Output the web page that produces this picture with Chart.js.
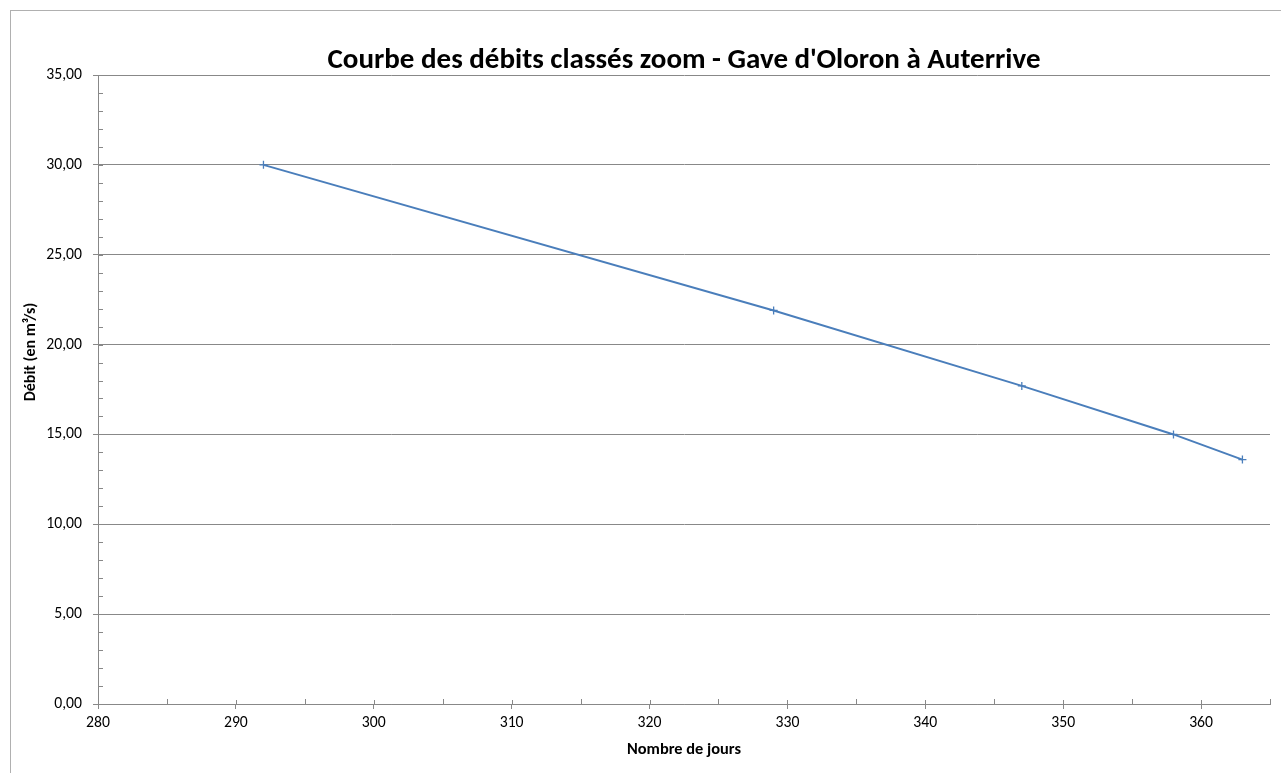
<!DOCTYPE html>
<html lang="fr">
<head>
<meta charset="utf-8">
<title>Courbe des débits classés zoom</title>
<script src="https://cdn.jsdelivr.net/npm/chart.js@4"></script>
<style>
    html, body { margin: 0; padding: 0; background: #ffffff; overflow: hidden; }
    #frame { position: absolute; left: 10px; top: 10px; width: 1300px; height: 800px; border: 1px solid #b0b0b0; }
    #wrap { position: absolute; left: 0; top: 0; width: 1281px; height: 773px; }
</style>
</head>
<body>
<div id="frame"></div>
<div id="wrap"><canvas id="chart"></canvas></div>
<script>
// Données
const jours = [292, 329, 347, 358, 363];
const debits = [30.0, 21.9, 17.7, 15.0, 13.6];

const xMajorTicks = [280, 290, 300, 310, 320, 330, 340, 350, 360];
const xMinorTicks = [285, 295, 305, 315, 325, 335, 345, 355, 365];
const yMajorTicks = [0, 5, 10, 15, 20, 25, 30, 35];

const titre = "Courbe des débits classés zoom - Gave d'Oloron à Auterrive";
const titreY = "Débit (en m³/s)";
const titreX = "Nombre de jours";

const FONT = "Calibri, Carlito, 'Open Sans', sans-serif";
const AXIS_GREY = "#888888";
const LINE_BLUE = "#4a7ebb";

// petites graduations + titre vertical, dessinés sur les échelles
const minorTicksPlugin = {
    id: "minorTicks",
    afterDraw(chart) {
        const ctx = chart.ctx;
        const x = chart.scales.x;
        const y = chart.scales.y;
        ctx.save();
        ctx.strokeStyle = AXIS_GREY;
        ctx.lineWidth = 1;
        ctx.beginPath();
        xMinorTicks.forEach((v) => {
            const px = Math.round(x.getPixelForValue(v)) + 0.5;
            ctx.moveTo(px, y.bottom);
            ctx.lineTo(px, y.bottom - 5);
        });
        // les grandes graduations traversent l'axe
        xMajorTicks.forEach((v) => {
            const px = Math.round(x.getPixelForValue(v)) + 0.5;
            ctx.moveTo(px, y.bottom);
            ctx.lineTo(px, y.bottom - 4);
        });
        for (let v = y.min; v <= y.max; v += 1) {
            const py = Math.round(y.getPixelForValue(v)) + 0.5;
            ctx.moveTo(x.left, py);
            ctx.lineTo(x.left + 5, py);
        }
        ctx.stroke();

        ctx.fillStyle = "#000000";
        ctx.font = `bold 16px ${FONT}`;
        ctx.textAlign = "center";
        ctx.textBaseline = "middle";
        ctx.translate(31, 352);
        ctx.rotate(-Math.PI / 2);
        ctx.fillText(titreY, 0, 0);
        ctx.restore();
    },
};

const chart = new Chart(document.getElementById("chart"), {
    type: "line",
    data: {
        datasets: [{
            label: titreY,
            data: jours.map((j, i) => ({ x: j, y: debits[i] })),
            borderColor: LINE_BLUE,
            backgroundColor: LINE_BLUE,
            borderWidth: 2,
            pointStyle: "cross",
            pointRadius: 4,
            pointBorderWidth: 1.3,
            tension: 0,
            fill: false,
        }],
    },
    options: {
        responsive: true,
        maintainAspectRatio: false,
        animation: false,
        layout: { padding: { left: 0, right: 11, top: 0, bottom: 0 } },
        plugins: {
            legend: { display: false },
            tooltip: { enabled: false },
            title: {
                display: true,
                text: titre,
                fullSize: false,
                color: "#000000",
                font: { family: FONT, size: 29, weight: "bold", lineHeight: 1 },
                padding: { top: 46, bottom: 0 },
            },
        },
        scales: {
            x: {
                type: "linear",
                min: 280,
                max: 365,
                afterBuildTicks: (scale) => { scale.ticks = xMajorTicks.map((v) => ({ value: v })); },
                afterFit: (scale) => { scale.height = 69; },
                grid: { display: true, drawOnChartArea: false, drawTicks: true, tickLength: 5, color: AXIS_GREY },
                border: { display: true, color: AXIS_GREY, width: 1 },
                ticks: { color: "#000000", font: { family: FONT, size: 15.7 }, padding: 5, maxRotation: 0 },
                title: {
                    display: true,
                    text: titreX,
                    color: "#000000",
                    font: { family: FONT, size: 16.4, weight: "bold" },
                    padding: { top: 4, bottom: 13 },
                },
            },
            y: {
                type: "linear",
                min: 0,
                max: 35,
                afterBuildTicks: (scale) => { scale.ticks = yMajorTicks.map((v) => ({ value: v })); },
                afterFit: (scale) => { scale.width = 98; },
                grid: { display: true, drawOnChartArea: true, drawTicks: true, tickLength: 5, color: AXIS_GREY },
                border: { display: true, color: AXIS_GREY, width: 1 },
                ticks: {
                    color: "#000000",
                    font: { family: FONT, size: 15.7 },
                    padding: 11,
                    callback: (v) => Number(v).toFixed(2).replace(".", ","),
                },
            },
        },
    },
    plugins: [minorTicksPlugin],
});
</script>
</body>
</html>
